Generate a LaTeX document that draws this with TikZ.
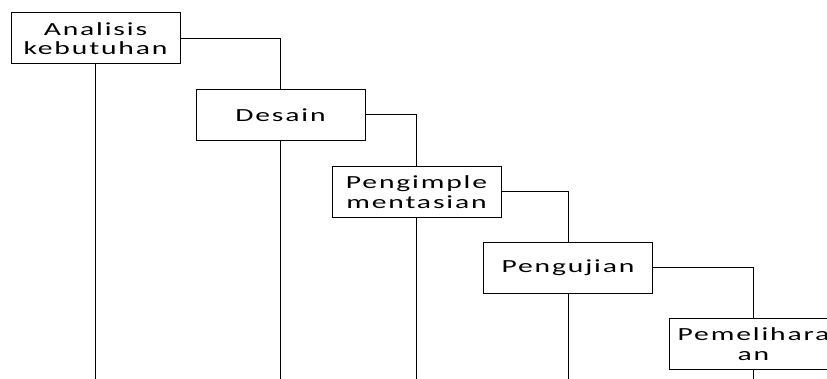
\documentclass[tikz,border=0pt]{standalone}
\usepackage{fontspec}
\newfontfamily\boxfont[FakeStretch=1.6,LetterSpace=10]{Carlito}
\begin{document}
\begin{tikzpicture}[x=1pt,y=1pt,
  stage/.style={draw=black, line width=1pt, rectangle, minimum width=169pt, minimum height=51pt,
    inner sep=0pt, align=center, font=\boxfont\fontsize{18.5}{19.5}\selectfont},
  link/.style={draw=black, line width=1pt}]
\useasboundingbox (0,0) rectangle (827,379);
\clip (0,0) rectangle (827,379);
\coordinate (bot) at (0,0);
\node[stage] (b1) at (95.5,340.5) {Analisis\\kebutuhan};
\node[stage] (b2) at (280.5,264) {Desain};
\node[stage] (b3) at (416.5,187) {Pengimple\\mentasian};
\node[stage] (b4) at (568,111) {Pengujian};
\node[stage] (b5) at (753.5,35) {Pemelihara\\an};
\draw[link] (b1.east) -| (b2.north);
\draw[link] (b2.east) -| (b3.north);
\draw[link] (b3.east) -| (b4.north);
\draw[link] (b4.east) -| (b5.north);
\foreach \n in {b1,b2,b3,b4,b5} \draw[link] (\n.south) -- (\n.south |- bot);
\end{tikzpicture}
\end{document}
